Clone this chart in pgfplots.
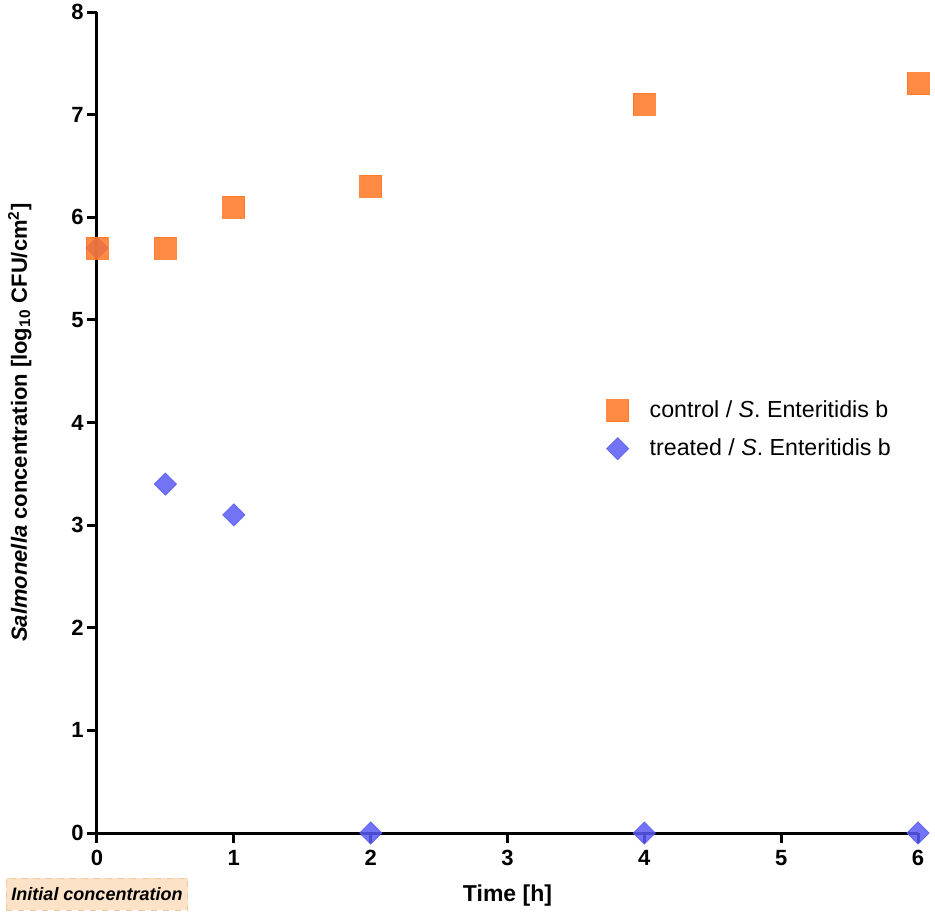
\documentclass[border=0pt]{standalone}
\usepackage{fontspec}
\setmainfont{Liberation Sans}
\usepackage{pgfplots}
\pgfplotsset{compat=1.18}
\definecolor{ctrlorange}{RGB}{255,118,35}
\definecolor{trtblue}{RGB}{90,90,245}
\definecolor{peach}{RGB}{252,227,200}
\definecolor{peachdark}{RGB}{240,200,160}
\begin{document}
\begin{tikzpicture}
\useasboundingbox (-48.5pt,-42pt) rectangle (419pt,416.5pt);
\begin{axis}[
  scale only axis,
  width=410.5pt, height=410.5pt,
  xmin=0, xmax=6, ymin=0, ymax=8,
  xtick={0,1,2,3,4,5,6},
  ytick={0,1,2,3,4,5,6,7,8},
  axis x line=bottom, axis y line=left,
  axis line style={-, line width=1.5pt, black},
  tick style={line width=1.5pt, black},
  major tick length=5pt,
  tick align=outside,
  clip=false,
  /pgf/number format/assume math mode=true,
  tick label style={font=\bfseries\fontsize{11}{13}\selectfont},
  yticklabel style={inner sep=1.5pt},
  xlabel={\bfseries Time [h]},
  xlabel style={at={(axis description cs:0.5,-0.0767)}, anchor=center, font=\fontsize{11.5}{13}\selectfont},
  ylabel={\bfseries\textit{Salmonella} concentration [log\textsubscript{10} CFU/cm\textsuperscript{2}]},
  ylabel style={at={(axis description cs:-0.094,0.5)}, anchor=center, font=\fontsize{11}{13}\selectfont},
  legend style={draw=none, fill=none, at={(axis description cs:0.613,0.5365)}, anchor=north west,
    font=\fontsize{11.6}{13}\selectfont, column sep=8.5pt, row sep=5pt},
  legend cell align=left,
  reverse legend,
  legend image code/.code={\draw[#1] plot coordinates {(0cm,0cm)};},
]
\addplot[only marks, mark=square*, mark size=3.9pt,
  mark options={rotate=45, fill=trtblue, draw=trtblue, opacity=0.85}]
  coordinates {(0,5.7) (0.5,3.4) (1,3.1) (2,0) (4,0) (6,0)};
\addlegendentry{treated / \textit{S}. Enteritidis b}
\addplot[only marks, mark=square*, mark size=5.5pt,
  mark options={fill=ctrlorange, draw=ctrlorange, opacity=0.85}]
  coordinates {(0,5.7) (0.5,5.7) (1,6.1) (2,6.3) (4,7.1) (6,7.3)};
\addlegendentry{control / \textit{S}. Enteritidis b}
\node[fill=peach, draw=peachdark, dashed, line width=0.4pt, minimum width=90.5pt, minimum height=16pt,
  inner sep=1pt, font=\bfseries\itshape\fontsize{9}{11}\selectfont, yshift=-30.5pt]
  at (axis cs:0,0) {Initial concentration};
\end{axis}
\end{tikzpicture}
\end{document}
